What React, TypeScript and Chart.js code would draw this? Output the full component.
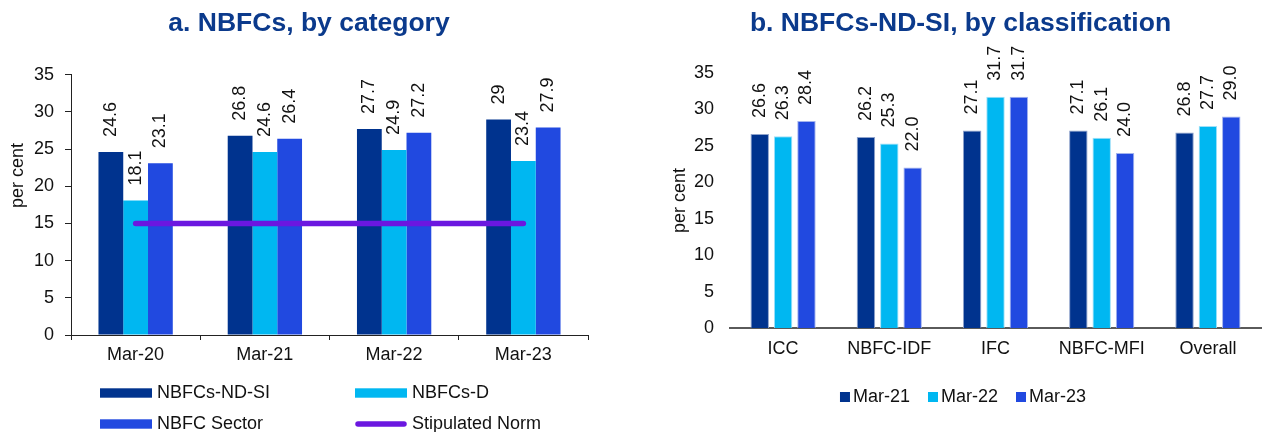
import { useEffect, useRef } from "react";
import { Chart, registerables } from "chart.js";

Chart.register(...registerables);

// ---- Panel a: capital ratio by NBFC category ----
const periods = ["Mar-20", "Mar-21", "Mar-22", "Mar-23"];
const ndsiValues = [24.6, 26.8, 27.7, 29];
const depositTakingValues = [18.1, 24.6, 24.9, 23.4];
const sectorValues = [23.1, 26.4, 27.2, 27.9];
const stipulatedNorm = [15, 15, 15, 15];

// ---- Panel b: NBFCs-ND-SI by classification ----
const classifications = ["ICC", "NBFC-IDF", "IFC", "NBFC-MFI", "Overall"];
const mar21Values = [26.6, 26.2, 27.1, 27.1, 26.8];
const mar22Values = [26.3, 25.3, 31.7, 26.1, 27.7];
const mar23Values = [28.4, 22.0, 31.7, 24.0, 29.0];

const yTickValues = [0, 5, 10, 15, 20, 25, 30, 35];

const FONT = "'Liberation Sans', Arial, Helvetica, sans-serif";
const NAVY = "#00338E";
const CYAN = "#00B7F1";
const BLUE = "#2149E0";
const PURPLE = "#6B17E0";
const TITLE_BLUE = "#0B3A8C";
const TEXT = "#111111";

// Vertical value labels above each bar
function makeValueLabels(format: (v: number) => string, offset: number) {
  return {
    id: "valueLabels",
    afterDatasetsDraw(chart: any) {
      const ctx = chart.ctx;
      ctx.save();
      ctx.font = `18px ${FONT}`;
      ctx.fillStyle = TEXT;
      ctx.textAlign = "left";
      ctx.textBaseline = "middle";
      chart.data.datasets.forEach((ds: any, i: number) => {
        if (ds.type === "line") return;
        const meta = chart.getDatasetMeta(i);
        meta.data.forEach((el: any, j: number) => {
          ctx.save();
          ctx.translate(el.x, el.y - offset);
          ctx.rotate(-Math.PI / 2);
          ctx.fillText(format(ds.data[j]), 0, 0);
          ctx.restore();
        });
      });
      ctx.restore();
    },
  };
}

// Two-column legend with wide swatches (panel a)
const gridLegend = {
  id: "gridLegend",
  afterDraw(chart: any) {
    const ctx = chart.ctx;
    const cols = [100, 355];
    const rows = [393, 424];
    ctx.save();
    ctx.font = `18px ${FONT}`;
    ctx.textBaseline = "middle";
    ctx.textAlign = "left";
    chart.data.datasets.forEach((ds: any, i: number) => {
      const x = cols[i % 2];
      const y = rows[Math.floor(i / 2)];
      if (ds.type === "line") {
        ctx.strokeStyle = ds.borderColor;
        ctx.lineWidth = 5.5;
        ctx.lineCap = "round";
        ctx.beginPath();
        ctx.moveTo(x + 3, y);
        ctx.lineTo(x + 49, y);
        ctx.stroke();
      } else {
        ctx.fillStyle = ds.backgroundColor;
        ctx.fillRect(x, y - 4.7, 52, 9.4);
      }
      ctx.fillStyle = TEXT;
      ctx.fillText(ds.label, x + 57, y);
    });
    ctx.restore();
  },
};

// Single-row legend with small square markers (panel b)
const rowLegend = {
  id: "rowLegend",
  afterDraw(chart: any) {
    const ctx = chart.ctx;
    const y = 397;
    const box = 10;
    const gapText = 3;
    const gapItem = 18;
    ctx.save();
    ctx.font = `18px ${FONT}`;
    ctx.textBaseline = "middle";
    ctx.textAlign = "left";
    const widths = chart.data.datasets.map(
      (ds: any) => box + gapText + ctx.measureText(ds.label).width
    );
    const total =
      widths.reduce((a: number, b: number) => a + b, 0) +
      gapItem * (widths.length - 1);
    let x = 303 - total / 2;
    chart.data.datasets.forEach((ds: any, i: number) => {
      ctx.fillStyle = ds.backgroundColor;
      ctx.fillRect(x, y - box / 2, box, box);
      ctx.fillStyle = TEXT;
      ctx.fillText(ds.label, x + box + gapText, y);
      x += widths[i] + gapItem;
    });
    ctx.restore();
  },
};

// Y-axis caption for panel a, drawn a little above the axis middle
const leftAxisCaption = {
  id: "leftAxisCaption",
  afterDraw(chart: any) {
    const ctx = chart.ctx;
    ctx.save();
    ctx.font = `18px ${FONT}`;
    ctx.fillStyle = TEXT;
    ctx.textAlign = "center";
    ctx.textBaseline = "middle";
    ctx.translate(18, 175.5);
    ctx.rotate(-Math.PI / 2);
    ctx.fillText("per cent", 0, 0);
    ctx.restore();
  },
};

function CategoryChart() {
  const ref = useRef<HTMLCanvasElement>(null);
  useEffect(() => {
    const chart = new Chart(ref.current!, {
      type: "bar",
      data: {
        labels: periods,
        datasets: [
          { label: "NBFCs-ND-SI", data: ndsiValues, backgroundColor: NAVY } as any,
          { label: "NBFCs-D", data: depositTakingValues, backgroundColor: CYAN } as any,
          { label: "NBFC Sector", data: sectorValues, backgroundColor: BLUE } as any,
          {
            type: "line",
            label: "Stipulated Norm",
            data: stipulatedNorm,
            borderColor: PURPLE,
            backgroundColor: PURPLE,
            borderWidth: 5.5,
            borderCapStyle: "round",
            pointRadius: 0,
            order: -1,
          } as any,
        ],
      },
      options: {
        responsive: false,
        animation: false,
        layout: { padding: { left: 30, right: 32, top: 0, bottom: 67 } },
        datasets: { bar: { categoryPercentage: 0.575, barPercentage: 1.0 } },
        plugins: {
          legend: { display: false },
          tooltip: { enabled: false },
          title: {
            display: true,
            text: "a. NBFCs, by category",
            color: TITLE_BLUE,
            font: { family: FONT, size: 26.5, weight: "bold" },
            padding: { top: 8, bottom: 35 },
          },
        },
        scales: {
          x: {
            grid: { drawOnChartArea: false, drawTicks: true, tickLength: 5, color: "#222", offset: true },
            border: { display: true, color: "#222", width: 1 },
            ticks: { color: TEXT, font: { family: FONT, size: 18 }, padding: 4 },
            afterFit: (s: any) => { s.height = 30; },
          },
          y: {
            min: 0,
            max: 35,
            afterBuildTicks: (s: any) => { s.ticks = yTickValues.map((v) => ({ value: v })); },
            grid: { drawOnChartArea: false, drawTicks: true, tickLength: 6, color: "#222" },
            border: { display: true, color: "#222", width: 1 },
            ticks: { color: TEXT, font: { family: FONT, size: 18 }, padding: 11 },
            afterFit: (s: any) => { s.width = 41; },
          },
        },
      } as any,
      plugins: [makeValueLabels((v) => String(v), 15), gridLegend, leftAxisCaption],
    });
    return () => chart.destroy();
  }, []);
  return <canvas ref={ref} width={620} height={432} style={{ position: "absolute", left: 0, top: 0, width: 620, height: 432 }} />;
}

function ClassificationChart() {
  const ref = useRef<HTMLCanvasElement>(null);
  useEffect(() => {
    const barStyle = { borderWidth: 1, borderSkipped: "bottom" };
    const chart = new Chart(ref.current!, {
      type: "bar",
      data: {
        labels: classifications,
        datasets: [
          { label: "Mar-21", data: mar21Values, backgroundColor: NAVY, borderColor: "#8FA3CC", ...barStyle } as any,
          { label: "Mar-22", data: mar22Values, backgroundColor: CYAN, borderColor: "#9FE0F8", ...barStyle } as any,
          { label: "Mar-23", data: mar23Values, backgroundColor: BLUE, borderColor: "#A3B3EE", ...barStyle } as any,
        ],
      },
      options: {
        responsive: false,
        animation: false,
        layout: { padding: { left: 0, right: 1, top: 0, bottom: 64 } },
        datasets: { bar: { categoryPercentage: 0.66, barPercentage: 0.79 } },
        plugins: {
          legend: { display: false },
          tooltip: { enabled: false },
          title: {
            display: true,
            text: "b. NBFCs-ND-SI, by classification",
            color: TITLE_BLUE,
            font: { family: FONT, size: 26.5, weight: "bold" },
            padding: { top: 8, bottom: 33 },
          },
        },
        scales: {
          x: {
            grid: { display: false, drawTicks: false },
            border: { display: true, color: "#5A5A5A", width: 2 },
            ticks: { color: TEXT, font: { family: FONT, size: 18 }, padding: 10 },
            afterFit: (s: any) => { s.height = 40; },
          },
          y: {
            min: 0,
            max: 35,
            afterBuildTicks: (s: any) => { s.ticks = yTickValues.map((v) => ({ value: v })); },
            grid: { display: false, drawTicks: false },
            border: { display: false },
            ticks: { color: TEXT, font: { family: FONT, size: 18 }, padding: 16 },
            title: {
              display: true,
              text: "per cent",
              color: TEXT,
              font: { family: FONT, size: 18 },
              padding: { top: 9, bottom: 0 },
            },
            afterFit: (s: any) => { s.width = 70; },
          },
        },
      } as any,
      plugins: [makeValueLabels((v) => v.toFixed(1), 16), rowLegend],
    });
    return () => chart.destroy();
  }, []);
  return <canvas ref={ref} width={602} height={432} style={{ position: "absolute", left: 660, top: 0, width: 602, height: 432 }} />;
}

export default function App() {
  return (
    <div style={{ position: "absolute", left: 0, top: 0, width: 1262, height: 432, background: "#ffffff" }}>
      <CategoryChart />
      <ClassificationChart />
    </div>
  );
}
